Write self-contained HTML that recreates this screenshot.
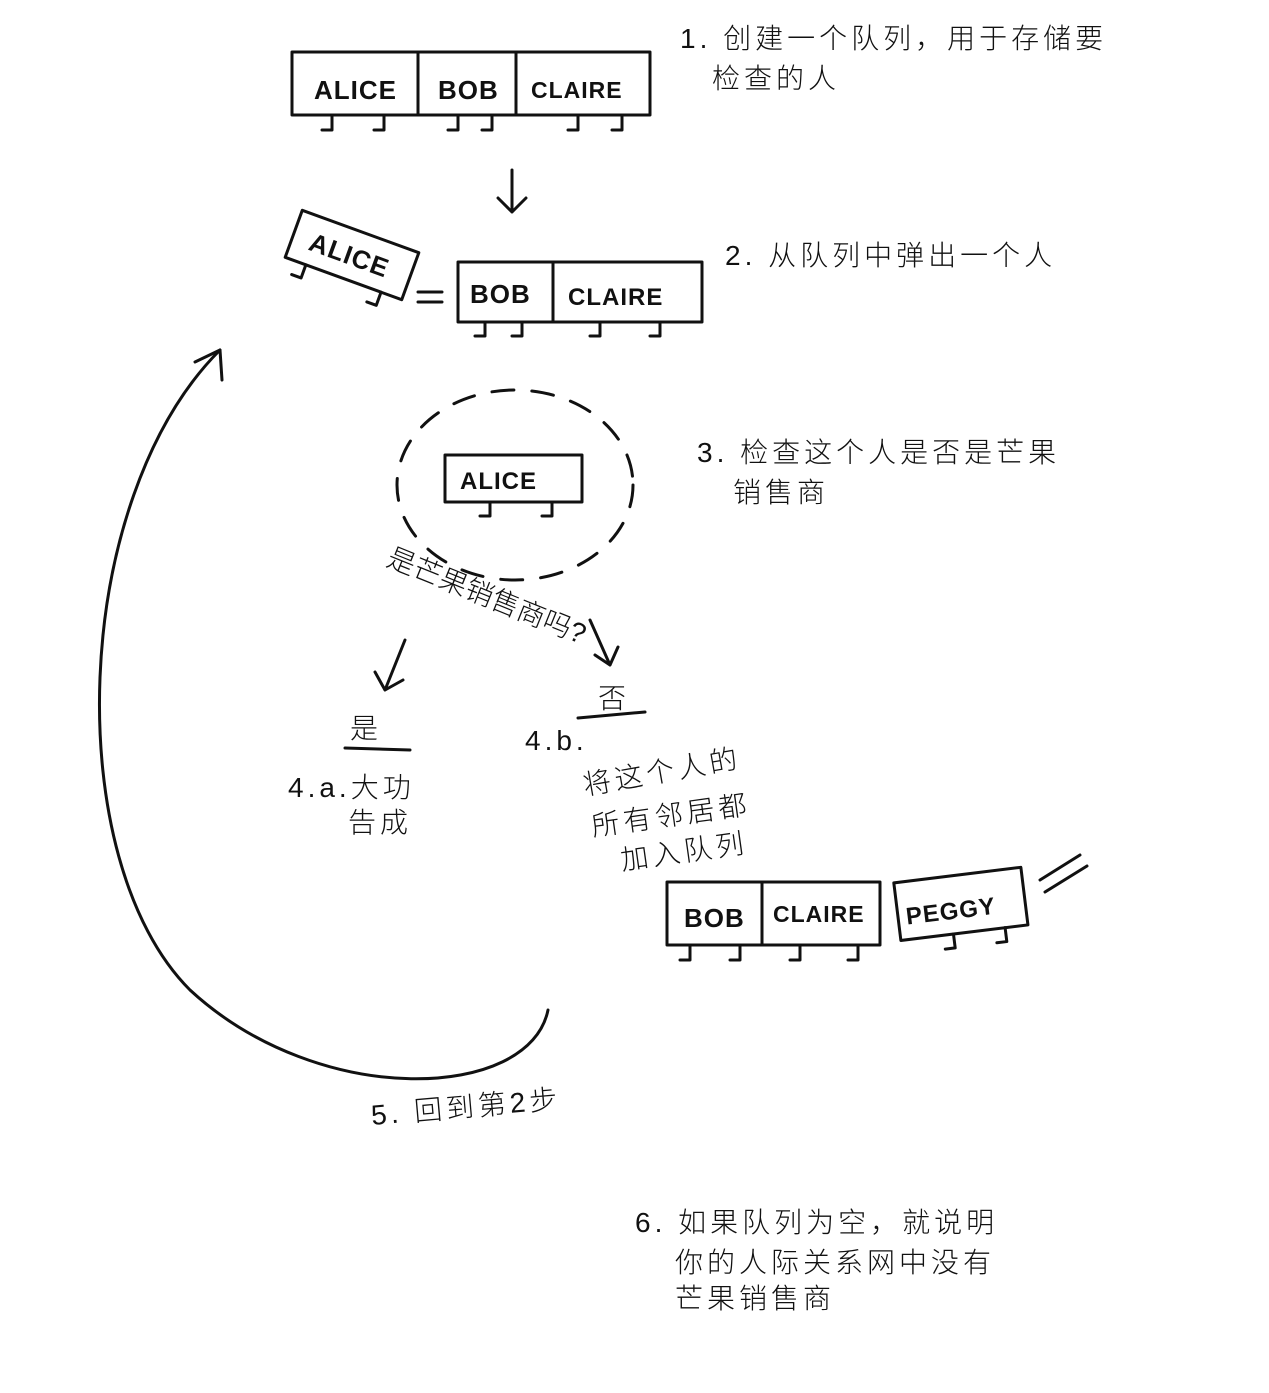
<!DOCTYPE html>
<html><head><meta charset="utf-8"><style>
html,body{margin:0;padding:0;background:#fff;}
svg{display:block;}
text{font-family:"Liberation Sans","Noto Sans CJK SC",sans-serif;fill:#111;}
.cn{font-size:28px;font-weight:300;letter-spacing:4px;}
.nm{font-size:26px;font-weight:bold;letter-spacing:1px;}
</style></head><body>
<svg width="1269" height="1393" viewBox="0 0 1269 1393" xmlns="http://www.w3.org/2000/svg">
<rect width="1269" height="1393" fill="#fff"/>
<g stroke="#111" stroke-width="3" fill="none" stroke-linecap="round" stroke-linejoin="round">
<rect x="292" y="52" width="358" height="63"/>
<line x1="418" y1="52" x2="418" y2="115"/><line x1="516" y1="52" x2="516" y2="115"/>
<path d="M332,115v15h-10M384,115v15h-10M458,115v15h-10M492,115v15h-10M578,115v15h-10M622,115v15h-10"/>
<path d="M512,170v42M498,198l14,14l14,-14"/>
<g transform="rotate(20 352 255)"><rect x="290" y="230" width="124" height="50"/>
<path d="M312,280v14h-10M392,280v14h-10"/></g>
<path d="M418,292h24M418,302h24"/>
<rect x="458" y="262" width="244" height="60"/>
<line x1="553" y1="262" x2="553" y2="322"/>
<path d="M485,322v14h-10M522,322v14h-10M600,322v14h-10M660,322v14h-10"/>
<ellipse cx="515" cy="485" rx="118" ry="95" stroke-dasharray="22 18"/>
<rect x="445" y="455" width="137" height="47"/>
<path d="M490,502v14h-10M552,502v14h-10"/>
<path d="M405,640L385,690M375,672l10,18l18,-10"/>
<path d="M590,620L610,665M595,655l15,10l8,-18"/>
<path d="M345,748L410,750"/><path d="M578,718L645,712"/>
<rect x="667" y="882" width="213" height="63"/>
<line x1="762" y1="882" x2="762" y2="945"/>
<path d="M690,945v15h-10M740,945v15h-10M800,945v15h-10M858,945v15h-10"/>
<g transform="rotate(-7 960 905)"><rect x="897" y="875" width="128" height="58"/>
<path d="M950,933v14h-10M1002,933v14h-10"/></g>
<path d="M1040,880l40,-25M1045,892l42,-26"/>
<path d="M548,1010C530,1100 320,1110 190,990C60,860 70,500 220,350"/>
<path d="M195,362L220,350L222,380"/>
</g>
<text class="nm" x="314" y="99">ALICE</text>
<text class="nm" x="438" y="99">BOB</text>
<text class="nm" x="531" y="98" style="font-size:23px">CLAIRE</text>
<text class="nm" x="308" y="265" transform="rotate(20 352 255)">ALICE</text>
<text class="nm" x="470" y="303">BOB</text>
<text class="nm" x="568" y="305" style="font-size:24px">CLAIRE</text>
<text class="nm" x="460" y="489" style="font-size:24px">ALICE</text>
<text class="nm" x="684" y="927">BOB</text>
<text class="nm" x="773" y="922" style="font-size:23px">CLAIRE</text>
<text class="nm" x="905" y="918" style="font-size:24px" transform="rotate(-7 960 905)">PEGGY</text>
<text class="cn" x="680" y="48">1. 创建一个队列，用于存储要</text>
<text class="cn" x="712" y="88">检查的人</text>
<text class="cn" x="725" y="265">2. 从队列中弹出一个人</text>
<text class="cn" x="697" y="462">3. 检查这个人是否是芒果</text>
<text class="cn" x="733" y="502">销售商</text>
<text class="cn" x="385" y="565" style="letter-spacing:0" transform="rotate(22 385 565)">是芒果销售商吗?</text>
<text class="cn" x="350" y="738">是</text>
<text class="cn" x="288" y="797">4.a.大功</text>
<text class="cn" x="348" y="832">告成</text>
<text class="cn" x="598" y="708">否</text>
<text class="cn" x="525" y="750">4.b.</text>
<text class="cn" x="585" y="795" transform="rotate(-10 585 795)">将这个人的</text>
<text class="cn" x="593" y="836" transform="rotate(-8 593 836)">所有邻居都</text>
<text class="cn" x="622" y="870" transform="rotate(-8 622 870)">加入队列</text>
<text class="cn" x="372" y="1125" transform="rotate(-5 372 1125)">5. 回到第2步</text>
<text class="cn" x="635" y="1232">6. 如果队列为空，就说明</text>
<text class="cn" x="675" y="1272">你的人际关系网中没有</text>
<text class="cn" x="675" y="1308">芒果销售商</text>
</svg>
</body></html>
